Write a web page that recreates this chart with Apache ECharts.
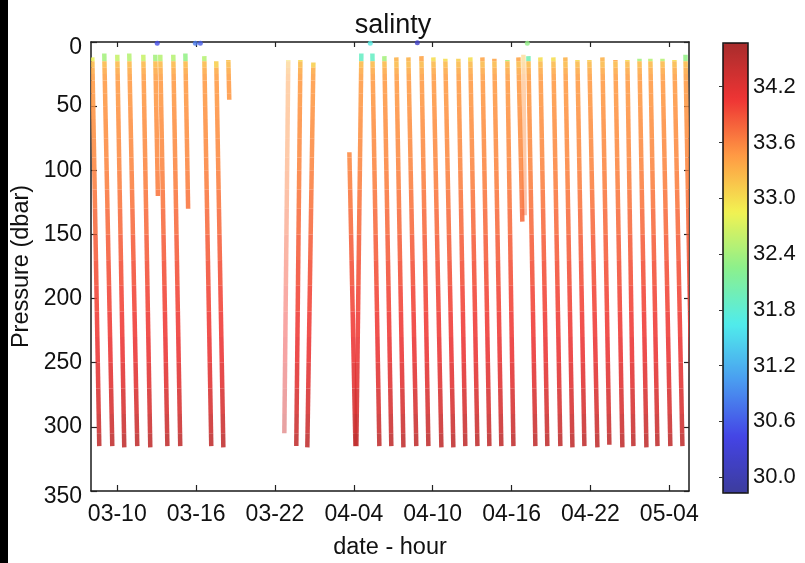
<!DOCTYPE html>
<html>
<head>
<meta charset="utf-8">
<title>salinty</title>
<script src="https://cdn.jsdelivr.net/npm/echarts@6/dist/echarts.min.js"></script>
<style>
  html, body { margin: 0; padding: 0; background: #fff; }
  #chart { width: 805px; height: 563px; }
</style>
</head>
<body>
<div id="chart"></div>
<script>
/// axes ///
// x is days after 03-10; the labels are the ones printed on the original plot
const tickDays = [0, 6, 12, 18, 24, 30, 36, 42]
const tickLabels = ['03-10', '03-16', '03-22', '04-04', '04-10', '04-16', '04-22', '05-04']
const colorTicks = [30.0, 30.6, 31.2, 31.8, 32.4, 33.0, 33.6, 34.2]

/// salinity below the surface reading (same for every cast) ///
const levels = [15, 20, 25, 30, 40, 50, 60, 75, 90, 100, 115, 130, 150, 170, 190, 210, 230, 250, 270, 290, 305, 320]
const levelSalinity = [33.25, 33.35, 33.42, 33.46, 33.48, 33.5, 33.52, 33.55, 33.58, 33.62, 33.68, 33.74,
  33.82, 33.9, 33.97, 34.03, 34.1, 34.18, 34.26, 34.36, 34.46, 34.52]

/// casts: day at the shallow end, its pressure, day at the deep end, its pressure, surface salinity ///
const castTopDay = [-1.90, -0.99, 0.00, 0.91, 1.98, 2.89, 3.27, 4.26, 5.18, 6.62, 7.53, 8.45,
  13.93, 14.92, 17.66, 18.57, 19.41, 20.32, 21.23, 22.15, 23.14, 24.05, 24.96, 25.95, 26.86,
  27.78, 28.69, 29.68, 30.52, 31.28, 32.19, 33.18, 34.09, 35.01, 35.92, 36.91, 37.90, 38.81,
  39.73, 40.56, 41.48, 42.39, 43.23]
const castTopP = [12, 9, 10, 9, 10, 10, 10, 10, 9, 11, 15, 14,
  14, 16, 86, 9, 9, 11, 12, 12, 11, 12, 13, 13, 12,
  12, 13, 14, 12, 11, 12, 12, 12, 14, 14, 12, 14, 14,
  13, 13, 13, 14, 10]
const castBottomDay = [-1.37, -0.38, 0.53, 1.52, 2.51, 3.09, 3.81, 4.79, 5.39, 7.15, 8.07, 8.52,
  13.62, 14.46, 18.12, 18.19, 19.94, 20.85, 21.77, 22.75, 23.67, 24.66, 25.57, 26.48, 27.40,
  28.31, 29.22, 30.14, 30.82, 31.81, 32.72, 33.71, 34.63, 35.54, 36.53, 37.44, 38.43, 39.27,
  40.26, 41.10, 42.08, 43.00, 43.76]
const castBottomP = [315, 315, 316, 315, 316, 120, 315, 315, 130, 315, 316, 45,
  315, 316, 315, 315, 315, 315, 316, 315, 315, 316, 316, 315, 315,
  315, 315, 315, 140, 315, 315, 315, 316, 315, 316, 314, 316, 315,
  316, 315, 315, 315, 315]
const castSurfaceS = [32.8, 32.4, 32.6, 32.5, 32.6, 32.4, 32.5, 32.5, 32.3, 32.5, 33.1, 33.2,
  33.0, 33.1, 33.56, 31.9, 31.9, 32.4, 33.3, 33.3, 33.4, 33.0, 33.0, 33.1, 33.0,
  33.4, 33.4, 32.4, 33.4, 32.0, 33.0, 33.0, 33.3, 33.0, 33.1, 33.3, 33.4, 33.0,
  32.4, 32.5, 32.5, 33.0, 32.3]

// two sparse casts drawn lighter
const faintTopDay = [13.01, 30.90]
const faintTopP = [14, 10]
const faintBottomDay = [12.71, 31.00]
const faintBottomP = [305, 135]
const faintSurfaceS = [33.0, 33.2]

// single low-salinity readings at the surface
const dotDay = [3.04, 5.94, 6.32, 19.25, 22.83, 31.20]
const dotP = [1, 1, 1, 1, 0.5, 1]
const dotS = [30.5, 30.8, 30.6, 31.7, 30.2, 32.3]

const COLORS = ['#3c3c9c', '#4444e6', '#4a9cf0', '#50ecec', '#8cf08c', '#f2f252', '#ff9a44', '#ee3434', '#a82c2c']
const FONT = '"Liberation Sans", Arial, Helvetica, sans-serif'
const TEXT = '#111'

// one item per coloured piece of a cast: cast ends + piece bounds + salinity
function castPieces(topDay, topP, bottomDay, bottomP, surfaceS) {
  const items = []
  topDay.forEach((t, k) => {
    const marks = [[topP[k], surfaceS[k]]]
    levels.forEach((p, i) => {
      if (p > topP[k] && p < bottomP[k]) marks.push([p, levelSalinity[i]])
    })
    marks.push([bottomP[k]])
    for (let i = 0; i < marks.length - 1; i++) {
      items.push([t, topP[k], bottomDay[k], bottomP[k], marks[i][0], marks[i + 1][0], marks[i][1]])
    }
  })
  return items
}

function castRenderer(opacity) {
  return (params, api) => {
    const top = api.coord([api.value(0), api.value(1)])
    const bottom = api.coord([api.value(2), api.value(3)])
    const y1 = api.coord([0, api.value(4)])[1]
    const y2 = api.coord([0, api.value(5)])[1]
    const xAt = y => top[0] + (bottom[0] - top[0]) * (y - top[1]) / (bottom[1] - top[1])
    return {
      type: 'line',
      shape: { x1: xAt(y1), y1: y1, x2: xAt(y2), y2: y2 },
      style: { stroke: api.visual('color'), lineWidth: 4.5, lineCap: 'butt', opacity: opacity },
    }
  }
}

const frameLine = { show: true, onZero: false, lineStyle: { color: '#1a1a1a', width: 1.5 } }
const labelStyle = { color: TEXT, fontSize: 23, fontFamily: FONT }
const nameStyle = { color: TEXT, fontSize: 23.5, fontFamily: FONT }

const chart = echarts.init(document.getElementById('chart'), null, { renderer: 'canvas' })

chart.setOption({
  backgroundColor: '#fff',
  animation: false,
  title: {
    text: 'salinty',
    left: 388,
    top: 7,
    textAlign: 'center',
    textStyle: { color: TEXT, fontSize: 27, fontWeight: 'normal', fontFamily: FONT },
  },
  graphic: [
    // dark strip at the left edge of the screenshot
    { type: 'rect', left: 0, top: 0, shape: { width: 8, height: 563 }, style: { fill: '#000' } },
  ],
  grid: [
    { left: 91, top: 42, width: 598, height: 449, outerBoundsMode: 'none' },
    {
      left: 723, top: 43, width: 25, height: 450, outerBoundsMode: 'none',
      show: true, backgroundColor: 'transparent', borderColor: '#111', borderWidth: 1.5, z: 5,
    },
  ],
  xAxis: [
    {
      type: 'value', gridIndex: 0, min: -2, max: 43.5, position: 'bottom',
      axisLine: frameLine,
      axisTick: { inside: true, length: 6, customValues: tickDays, lineStyle: { color: '#222', width: 1.2 } },
      axisLabel: {
        ...labelStyle, margin: 12, customValues: tickDays,
        formatter: v => tickLabels[tickDays.indexOf(v)],
      },
      splitLine: { show: false },
      name: 'date - hour', nameLocation: 'middle', nameGap: 45, nameMoveOverlap: false,
      nameTextStyle: nameStyle,
    },
    {
      type: 'value', gridIndex: 0, min: -2, max: 43.5, position: 'top',
      axisLine: frameLine,
      axisTick: { inside: true, length: 5, customValues: tickDays, lineStyle: { color: '#222', width: 1.2 } },
      axisLabel: { show: false },
      splitLine: { show: false },
    },
    { type: 'value', gridIndex: 1, min: 0, max: 1, show: false },
  ],
  yAxis: [
    {
      type: 'value', gridIndex: 0, min: 0, max: 350, interval: 50, inverse: true, position: 'left',
      axisLine: frameLine,
      axisTick: { inside: true, length: 6, lineStyle: { color: '#222', width: 1.2 } },
      axisLabel: {
        ...labelStyle, margin: 9,
        formatter: v => (v === 0 || v === 350 ? '{edge|' + v + '}' : String(v)),
        rich: { edge: { ...labelStyle, padding: [12, 0, 0, 0] } },
      },
      splitLine: { show: false },
      name: 'Pressure (dbar)', nameLocation: 'middle', nameGap: 57, nameMoveOverlap: false,
      nameTextStyle: nameStyle,
    },
    {
      type: 'value', gridIndex: 0, min: 0, max: 350, interval: 50, inverse: true, position: 'right',
      axisLine: frameLine,
      axisTick: { inside: true, length: 5, lineStyle: { color: '#222', width: 1.2 } },
      axisLabel: { show: false },
      splitLine: { show: false },
    },
    {
      // tick labels of the colour bar
      type: 'value', gridIndex: 1, min: 29.83, max: 34.67, position: 'right', z: 6,
      axisLine: { show: false },
      axisTick: { inside: true, length: 4, customValues: colorTicks, lineStyle: { color: '#333', width: 1 } },
      axisLabel: { ...labelStyle, fontSize: 22, margin: 5, customValues: colorTicks, formatter: v => v.toFixed(1) },
      splitLine: { show: false },
    },
  ],
  visualMap: [
    {
      type: 'continuous', min: 29.83, max: 34.67, dimension: 6, seriesIndex: [0, 1],
      orient: 'vertical', left: 723, top: 43, itemWidth: 25, itemHeight: 450, padding: 0,
      calculable: false, hoverLink: false, z: 2,
      inRange: { color: COLORS },
    },
    {
      type: 'continuous', show: false, min: 29.83, max: 34.67, dimension: 2, seriesIndex: 2,
      inRange: { color: COLORS },
    },
  ],
  series: [
    {
      type: 'custom', name: 'casts', xAxisIndex: 0, yAxisIndex: 0, clip: true,
      renderItem: castRenderer(0.88),
      data: castPieces(castTopDay, castTopP, castBottomDay, castBottomP, castSurfaceS),
    },
    {
      type: 'custom', name: 'faint casts', xAxisIndex: 0, yAxisIndex: 0, clip: true,
      renderItem: castRenderer(0.45),
      data: castPieces(faintTopDay, faintTopP, faintBottomDay, faintBottomP, faintSurfaceS),
    },
    {
      type: 'scatter', name: 'surface', xAxisIndex: 0, yAxisIndex: 0, symbolSize: 5, z: 3,
      data: dotDay.map((d, i) => [d, dotP[i], dotS[i]]),
    },
  ],
})
</script>
</body>
</html>
